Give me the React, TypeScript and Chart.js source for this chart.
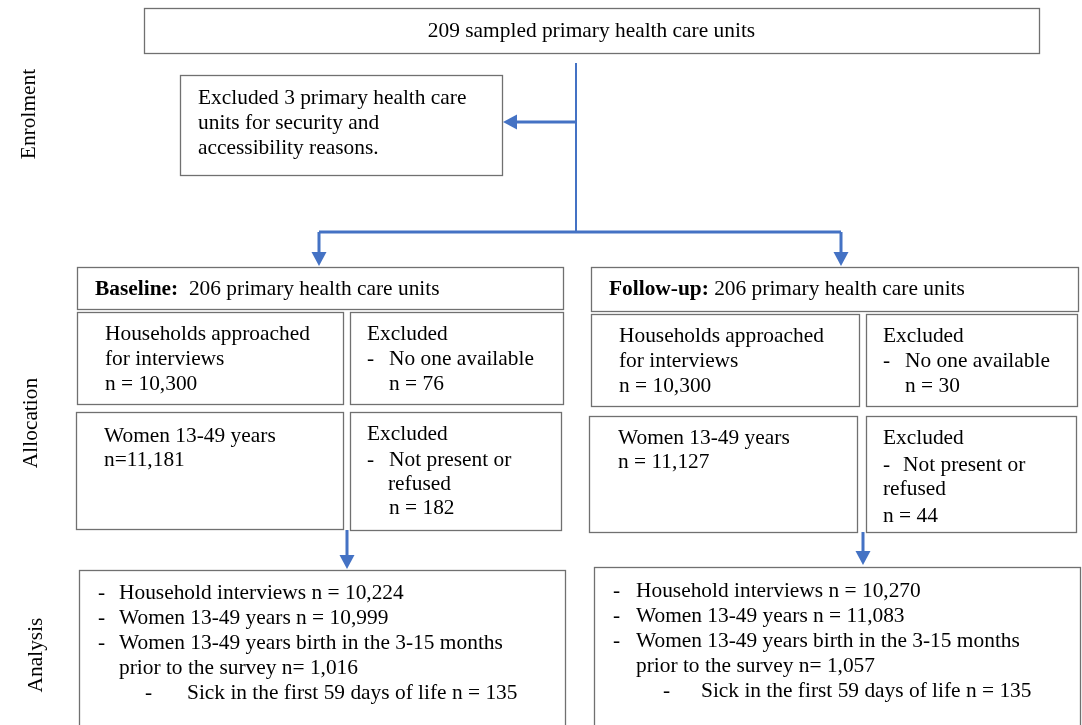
import React, { useEffect, useRef } from "react";
import { Chart, registerables } from "chart.js";
Chart.register(...registerables);

// ---------------- data ----------------
const phases = ["Enrolment", "Allocation", "Analysis"];
const arms = ["Baseline", "Follow-up"];
const sampledUnits = 209;
const excludedUnits = 3;
const unitsPerArm = [206, 206];
const householdsApproached = [10300, 10300];
const householdsExcluded = [76, 30];
const womenEligible = [11181, 11127];
const womenExcluded = [182, 44];
const householdInterviews = [10224, 10270];
const womenInterviewed = [10999, 11083];
const womenWithBirth = [1016, 1057];
const sickInfants = [135, 135];

// ---------------- layout (data units of a 1082 x 725 plane) ----------------
const W = 1082;
const H = 725;
const FONT = "'Liberation Serif', 'Times New Roman', serif";
const FS = 21.4;
const BLUE = "#4472C4";
const BORDER = "#707070";

const fmt = (n: number) => n.toLocaleString("en-US");

type Box = [number, number, number, number];
type Txt = { t: string; x: number; y: number; bold?: string; center?: boolean };

const topBox: Box = [144, 8, 1039, 53];
const exclBox: Box = [180, 75, 502, 175];

const armLayout = [
  {
    header: [77, 267, 563, 309] as Box,
    hh: [77, 312, 343, 404] as Box,
    ex1: [350, 312, 563, 404] as Box,
    wo: [76, 412, 343, 529] as Box,
    ex2: [350, 412, 561, 530] as Box,
    an: [79, 570, 565, 732] as Box,
    headerX: 95,
    hhX: 105, hhY: [334, 359, 384],
    ex1X: 367, ex1X2: 389, ex1Y: [334, 359, 384],
    woX: 104, woY: [436, 460],
    ex2X: 367, ex2X2: 389, ex2X3: 388, ex2X4: 389, ex2Y: [434, 460, 484, 508],
    anDash: 98, anX: 119, anSubDash: 145, anSubX: 187, anY: [593, 618, 643, 668, 693],
    womenCompact: true,
    headerGap: "  ",
  },
  {
    header: [591, 267, 1078, 311] as Box,
    hh: [591, 314, 859, 406] as Box,
    ex1: [866, 314, 1077, 406] as Box,
    wo: [589, 416, 857, 532] as Box,
    ex2: [866, 416, 1076, 532] as Box,
    an: [594, 567, 1080, 732] as Box,
    headerX: 609,
    hhX: 619, hhY: [336, 361, 386],
    ex1X: 883, ex1X2: 905, ex1Y: [336, 361, 386],
    woX: 618, woY: [438, 462],
    ex2X: 883, ex2X2: 903, ex2X3: 883, ex2X4: 883, ex2Y: [438, 465, 489, 516],
    anDash: 613, anX: 636, anSubDash: 663, anSubX: 701, anY: [591, 616, 641, 666, 691],
    womenCompact: false,
    headerGap: " ",
  },
];

const phaseLabelPos = [
  [29, 114],
  [31, 423],
  [36, 655],
];

// connectors: [points], width, arrow tip (or null)
const connectors: { pts: [number, number][]; w: number; tip: [number, number] | null; dir: "left" | "down" | null }[] = [
  { pts: [[576, 63], [576, 232]], w: 2, tip: null, dir: null },
  { pts: [[576, 122], [512, 122]], w: 3, tip: [503, 122], dir: "left" },
  { pts: [[319, 232], [841, 232]], w: 3, tip: null, dir: null },
  { pts: [[319, 232], [319, 255]], w: 3, tip: [319, 266], dir: "down" },
  { pts: [[841, 232], [841, 255]], w: 3, tip: [841, 266], dir: "down" },
  { pts: [[347, 530], [347, 558]], w: 3, tip: [347, 569], dir: "down" },
  { pts: [[863, 532], [863, 554]], w: 3, tip: [863, 565], dir: "down" },
];

function buildTexts(): Txt[] {
  const out: Txt[] = [];
  out.push({ t: `${sampledUnits} sampled primary health care units`, x: (topBox[0] + topBox[2]) / 2, y: 31, center: true });
  out.push({ t: `Excluded ${excludedUnits} primary health care`, x: 198, y: 98 });
  out.push({ t: "units for security and", x: 198, y: 123 });
  out.push({ t: "accessibility reasons.", x: 198, y: 148 });
  armLayout.forEach((L, i) => {
    out.push({ bold: `${arms[i]}:`, t: `${L.headerGap}${unitsPerArm[i]} primary health care units`, x: L.headerX, y: 289 });
    out.push({ t: "Households approached", x: L.hhX, y: L.hhY[0] });
    out.push({ t: "for interviews", x: L.hhX, y: L.hhY[1] });
    out.push({ t: `n = ${fmt(householdsApproached[i])}`, x: L.hhX, y: L.hhY[2] });
    out.push({ t: "Excluded", x: L.ex1X, y: L.ex1Y[0] });
    out.push({ t: "-", x: L.ex1X, y: L.ex1Y[1] });
    out.push({ t: "No one available", x: L.ex1X2, y: L.ex1Y[1] });
    out.push({ t: `n = ${fmt(householdsExcluded[i])}`, x: L.ex1X2, y: L.ex1Y[2] });
    out.push({ t: "Women 13-49 years", x: L.woX, y: L.woY[0] });
    out.push({ t: L.womenCompact ? `n=${fmt(womenEligible[i])}` : `n = ${fmt(womenEligible[i])}`, x: L.woX, y: L.woY[1] });
    out.push({ t: "Excluded", x: L.ex2X, y: L.ex2Y[0] });
    out.push({ t: "-", x: L.ex2X, y: L.ex2Y[1] });
    out.push({ t: "Not present or", x: L.ex2X2, y: L.ex2Y[1] });
    out.push({ t: "refused", x: L.ex2X3, y: L.ex2Y[2] });
    out.push({ t: `n = ${fmt(womenExcluded[i])}`, x: L.ex2X4, y: L.ex2Y[3] });
    out.push({ t: "-", x: L.anDash, y: L.anY[0] });
    out.push({ t: `Household interviews n = ${fmt(householdInterviews[i])}`, x: L.anX, y: L.anY[0] });
    out.push({ t: "-", x: L.anDash, y: L.anY[1] });
    out.push({ t: `Women 13-49 years n = ${fmt(womenInterviewed[i])}`, x: L.anX, y: L.anY[1] });
    out.push({ t: "-", x: L.anDash, y: L.anY[2] });
    out.push({ t: "Women 13-49 years birth in the 3-15 months", x: L.anX, y: L.anY[2] });
    out.push({ t: `prior to the survey n= ${fmt(womenWithBirth[i])}`, x: L.anX, y: L.anY[3] });
    out.push({ t: "-", x: L.anSubDash, y: L.anY[4] });
    out.push({ t: `Sick in the first 59 days of life n = ${fmt(sickInfants[i])}`, x: L.anSubX, y: L.anY[4] });
  });
  return out;
}

function allBoxes(): Box[] {
  const b: Box[] = [topBox, exclBox];
  armLayout.forEach((L) => b.push(L.header, L.hh, L.ex1, L.wo, L.ex2, L.an));
  return b;
}

const flowPlugin = {
  id: "flow",
  beforeDraw(chart: any) {
    const ctx = chart.ctx;
    ctx.save();
    ctx.fillStyle = "#ffffff";
    ctx.fillRect(0, 0, chart.width, chart.height);
    ctx.restore();
  },
  afterDatasetsDraw(chart: any) {
    const ctx: CanvasRenderingContext2D = chart.ctx;
    const xs = chart.scales.x;
    const ys = chart.scales.y;
    const px = (v: number) => xs.getPixelForValue(v);
    const py = (v: number) => ys.getPixelForValue(v);
    ctx.save();
    // boxes
    ctx.strokeStyle = BORDER;
    ctx.lineWidth = 1.3;
    allBoxes().forEach(([x0, y0, x1, y1]) => {
      ctx.strokeRect(Math.round(px(x0)) + 0.5, Math.round(py(y0)) + 0.5, Math.round(px(x1) - px(x0)), Math.round(py(y1) - py(y0)));
    });
    // arrow heads
    ctx.fillStyle = BLUE;
    connectors.forEach((c) => {
      if (!c.tip) return;
      const tx = px(c.tip[0]);
      const ty = py(c.tip[1]);
      const len = 14;
      const hw = 7.5;
      ctx.beginPath();
      if (c.dir === "down") {
        ctx.moveTo(tx, ty);
        ctx.lineTo(tx - hw, ty - len);
        ctx.lineTo(tx + hw, ty - len);
      } else {
        ctx.moveTo(tx, ty);
        ctx.lineTo(tx + len, ty - hw);
        ctx.lineTo(tx + len, ty + hw);
      }
      ctx.closePath();
      ctx.fill();
    });
    // texts
    ctx.fillStyle = "#000000";
    ctx.textBaseline = "middle";
    buildTexts().forEach((t) => {
      let x = px(t.x);
      const y = py(t.y);
      if (t.center) {
        ctx.font = `${FS}px ${FONT}`;
        ctx.textAlign = "center";
        ctx.fillText(t.t, x, y);
        return;
      }
      ctx.textAlign = "left";
      if (t.bold) {
        ctx.font = `bold ${FS}px ${FONT}`;
        ctx.fillText(t.bold, x, y);
        x += ctx.measureText(t.bold).width;
      }
      ctx.font = `${FS}px ${FONT}`;
      ctx.fillText(t.t, x, y);
    });
    // phase labels (rotated)
    ctx.font = `${FS}px ${FONT}`;
    ctx.textAlign = "center";
    phases.forEach((p, i) => {
      ctx.save();
      ctx.translate(px(phaseLabelPos[i][0]), py(phaseLabelPos[i][1]));
      ctx.rotate(-Math.PI / 2);
      ctx.fillText(p, 0, 0);
      ctx.restore();
    });
    ctx.restore();
  },
};

export default function App() {
  const ref = useRef<HTMLCanvasElement | null>(null);
  useEffect(() => {
    if (!ref.current) return;
    const chart = new Chart(ref.current, {
      type: "scatter",
      data: {
        datasets: connectors.map((c) => ({
          data: c.pts.map(([x, y]) => ({ x, y })),
          showLine: true,
          borderColor: BLUE,
          borderWidth: c.w,
          pointRadius: 0,
          pointHoverRadius: 0,
          fill: false,
          tension: 0,
          borderCapStyle: "butt" as const,
        })),
      },
      options: {
        responsive: false,
        maintainAspectRatio: false,
        animation: false,
        events: [],
        layout: { padding: 0 },
        plugins: { legend: { display: false }, tooltip: { enabled: false } },
        scales: {
          x: { type: "linear", min: 0, max: W, display: false },
          y: { type: "linear", min: 0, max: H, reverse: true, display: false },
        },
      },
      plugins: [flowPlugin],
    });
    return () => chart.destroy();
  }, []);
  return (
    <div style={{ position: "absolute", left: 0, top: 0, width: W, height: H, background: "#fff" }}>
      <canvas ref={ref} width={W} height={H} style={{ display: "block", width: W, height: H }} />
    </div>
  );
}
